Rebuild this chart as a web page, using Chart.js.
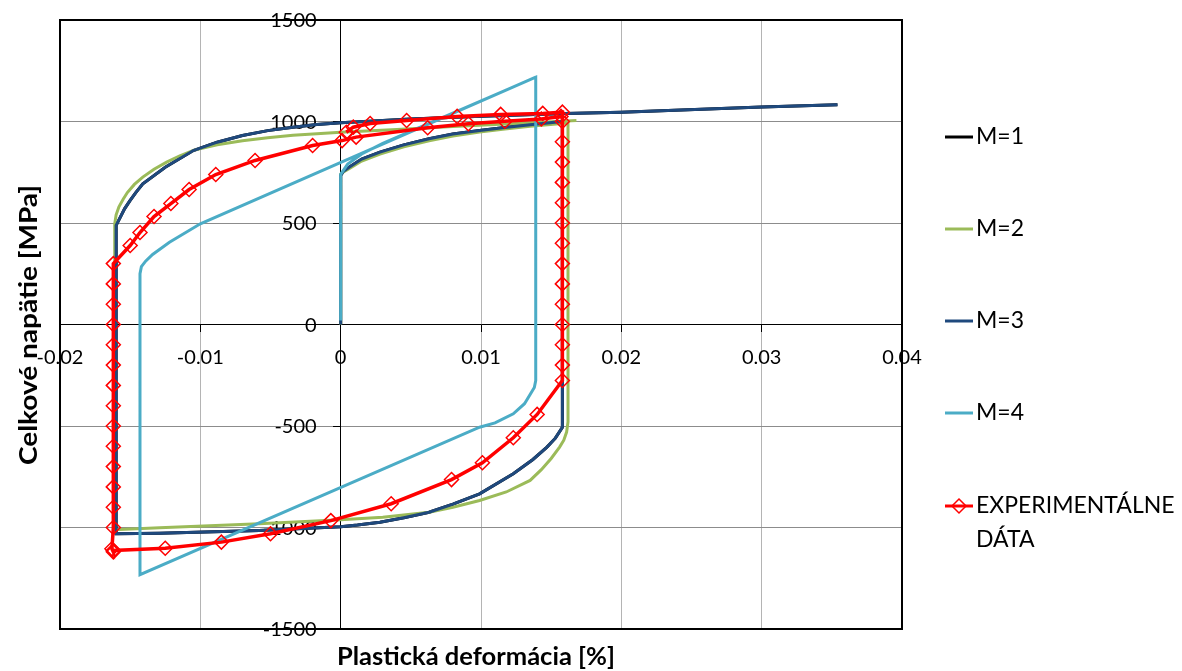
<!DOCTYPE html>
<html>
<head>
<meta charset="utf-8">
<script src="https://cdn.jsdelivr.net/npm/chart.js@4.4.0/dist/chart.umd.min.js"></script>
<style>
html, body { margin: 0; padding: 0; background: #fff; }
canvas { display: block; }
</style>
</head>
<body>
<canvas id="chart" width="1182" height="671"></canvas>
<script>
// axis ranges / ticks
const xTicks = [-0.02, -0.01, 0, 0.01, 0.02, 0.03, 0.04];
const yTicks = [-1500, -1000, -500, 0, 500, 1000, 1500];

const labels = ['M=1', 'M=2', 'M=3', 'M=4', 'EXPERIMENTÁLNE DÁTA'];
const colors = ['#000000', '#9BBB59', '#1F497D', '#4BACC6', '#FF0000'];

// M=3 (M=1 lies exactly under it)
const m3X = [0, 0, 0.0002, 0.0006, 0.0015, 0.0028, 0.0045, 0.0063, 0.008, 0.0099, 0.0117, 0.0135, 0.0158,
  0.0158, 0.0153, 0.0147, 0.0137, 0.0123, 0.0099, 0.008, 0.0063, 0.0045, 0.0028, 0.0012, 0, -0.0058, -0.0129, -0.016,
  -0.016, -0.0157, -0.0154, -0.015, -0.0146, -0.0141, -0.0125, -0.0105, -0.0088, -0.007, -0.0052, -0.0034, -0.0017, 0,
  0.005, 0.01, 0.016, 0.02, 0.03, 0.0354];
const m3Y = [0, 734, 755, 775, 815, 849, 885, 915, 938, 956, 971, 984, 1000,
  -506, -560, -604, -665, -735, -834, -885, -925, -952, -974, -988, -996, -1015, -1028, -1031,
  488, 529, 570, 611, 650, 693, 775, 857, 898, 931, 955, 972, 985, 994,
  1012, 1026, 1040, 1046, 1071, 1082];
const m1X = m3X.slice();
const m1Y = m3Y.slice();

// M=2
const m2X = [0, 0, 0.0002, 0.0006, 0.0015, 0.0028, 0.0045, 0.0063, 0.008, 0.0099, 0.0117, 0.0135, 0.0162,
  0.0162, 0.0161, 0.0159, 0.0156, 0.015, 0.0143, 0.0135, 0.0118, 0.0099, 0.008, 0.0063, 0.003, 0, -0.0058, -0.0129, -0.0161,
  -0.0161, -0.016, -0.0158, -0.0155, -0.0152, -0.0147, -0.0141, -0.0133, -0.0124, -0.0115, -0.0105, -0.0088, -0.007, -0.0052, -0.0034, 0,
  0.004, 0.008, 0.0125, 0.0168];
const m2Y = [0, 740, 752, 768, 805, 840, 875, 905, 928, 948, 963, 976, 992,
  -480, -530, -570, -604, -660, -715, -768, -825, -867, -900, -925, -950, -962, -982, -1001, -1011,
  496, 540, 580, 617, 650, 690, 726, 765, 800, 830, 858, 885, 905, 920, 932, 947,
  960, 975, 990, 1005];

// M=4
const m4X = [0, 0, 0.0005, 0.0015, 0.003, 0.0139, 0.0139, 0.0138, 0.0135, 0.0131, 0.0123, 0.011, 0.0099, -0.0143, -0.0143, -0.0142, -0.0139, -0.0134, -0.0122, -0.01, 0.0139];
const m4Y = [20, 740, 790, 840, 892, 1218, -276, -310, -345, -390, -440, -485, -506, -1232, 250, 285, 312, 345, 405, 496, 1218];

// experimental data
const expX = [0.0004, 0.0009, 0.0021, 0.0047, 0.0083, 0.0114, 0.0144, 0.0158,
  0.0158, 0.0158, 0.0158, 0.0158, 0.0158, 0.0158, 0.0158, 0.0158, 0.0158, 0.0158, 0.0158, 0.0158, 0.0158, 0.0158,
  0.014, 0.0123, 0.0101, 0.0079, 0.0036, -0.0007, -0.005, -0.0085, -0.0125, -0.0162, -0.0162, -0.0163,
  -0.0162, -0.0162, -0.0162, -0.0162, -0.0162, -0.0162, -0.0162, -0.0162, -0.0162, -0.0162, -0.0162, -0.0162, -0.0162, -0.0162,
  -0.015, -0.0143, -0.0133, -0.0121, -0.0108, -0.0089, -0.0061, -0.002, 0.0001,
  0.0011, 0.0062, 0.0091, 0.0117, 0.0143, 0.0157];
const expY = [947, 972, 990, 1005, 1025, 1035, 1040, 1046,
  1000, 900, 800, 700, 600, 500, 400, 300, 200, 100, 0, -100, -200, -276,
  -443, -558, -681, -764, -883, -966, -1031, -1072, -1102, -1113, -1120, -1105,
  -1000, -900, -800, -700, -600, -500, -400, -300, -200, -100, 0, 100, 200, 300,
  389, 453, 532, 596, 665, 739, 808, 882, 906,
  923, 969, 989, 1001, 1012, 1025];

function toPoints(xs, ys) {
  return xs.map((x, i) => ({ x: x, y: ys[i] }));
}

const FONT = 'Lato';

// y tick labels sit left of the y axis (which crosses at x = 0)
const yLabels = {
  id: 'yLabels',
  beforeDatasetsDraw(chart) {
    const ctx = chart.ctx;
    const x0 = chart.scales.x.getPixelForValue(0) - 24;
    ctx.save();
    ctx.fillStyle = '#000';
    ctx.font = '20px ' + FONT;
    ctx.textAlign = 'right';
    ctx.textBaseline = 'middle';
    yTicks.forEach(v => ctx.fillText(String(v), x0, chart.scales.y.getPixelForValue(v) + 1));
    ctx.restore();
  }
};

// draw text squeezed/stretched to a given width
function fitText(ctx, text, x, y, width) {
  const w = ctx.measureText(text).width;
  ctx.save();
  ctx.translate(x, y);
  ctx.scale(width / w, 1);
  ctx.fillText(text, 0, 0);
  ctx.restore();
}

// frame, axis titles and legend like the original
const decor = {
  id: 'decor',
  afterDraw(chart) {
    const ctx = chart.ctx;
    const a = chart.chartArea;
    ctx.save();
    ctx.strokeStyle = '#000';
    ctx.lineWidth = 2;
    ctx.strokeRect(a.left, a.top, a.right - a.left, a.bottom - a.top);

    ctx.fillStyle = '#000';
    ctx.font = 'bold 25px ' + FONT;
    ctx.textAlign = 'center';
    ctx.textBaseline = 'middle';
    fitText(ctx, 'Plastická deformácia [%]', 476, 657, 278);
    ctx.save();
    ctx.translate(29, 325);
    ctx.rotate(-Math.PI / 2);
    fitText(ctx, 'Celkové napätie [MPa]', 0, 0, 280);
    ctx.restore();

    // legend
    const rows = [137, 229, 321, 413, 506];
    ctx.font = '23px ' + FONT;
    ctx.textAlign = 'left';
    chart.data.datasets.forEach((ds, i) => {
      const y = rows[i];
      ctx.strokeStyle = ds.borderColor;
      ctx.lineWidth = 3;
      ctx.beginPath();
      ctx.moveTo(945, y);
      ctx.lineTo(973, y);
      ctx.stroke();
      if (ds.pointRadius > 0) {
        ctx.lineWidth = 1.5;
        ctx.beginPath();
        ctx.moveTo(959, y - 7); ctx.lineTo(966, y); ctx.lineTo(959, y + 7); ctx.lineTo(952, y);
        ctx.closePath();
        ctx.stroke();
      }
      ctx.fillStyle = '#000';
      const words = ds.label.split(' ');
      words.forEach((w, k) => ctx.fillText(w, 976, y + k * 34));
    });
    ctx.restore();
  }
};

const lineSet = (label, color, xs, ys, order, width) => ({
  label: label,
  data: toPoints(xs, ys),
  showLine: true,
  borderColor: color,
  backgroundColor: color,
  borderWidth: width,
  pointRadius: 0,
  order: order
});

const expSet = {
  label: labels[4],
  data: toPoints(expX, expY),
  showLine: true,
  borderColor: colors[4],
  backgroundColor: colors[4],
  borderWidth: 3.5,
  pointRadius: 7,
  pointStyle: 'rectRot',
  pointBorderColor: colors[4],
  pointBackgroundColor: 'rgba(0,0,0,0)',
  pointBorderWidth: 1.5,
  order: 0
};

const noPad = (s) => { s.paddingTop = 0; s.paddingBottom = 0; s.paddingLeft = 0; s.paddingRight = 0; };

new Chart(document.getElementById('chart').getContext('2d'), {
  type: 'scatter',
  data: {
    datasets: [
      lineSet(labels[0], colors[0], m1X, m1Y, 4, 3),
      lineSet(labels[1], colors[1], m2X, m2Y, 3, 3),
      lineSet(labels[2], colors[2], m3X, m3Y, 2, 3),
      lineSet(labels[3], colors[3], m4X, m4Y, 1, 3),
      expSet
    ]
  },
  options: {
    responsive: false,
    animation: false,
    events: [],
    layout: { padding: { left: 60, right: 280, top: 20, bottom: 42 } },
    plugins: { legend: { display: false }, tooltip: { enabled: false } },
    scales: {
      x: {
        type: 'linear',
        position: { y: 0 },
        min: xTicks[0],
        max: xTicks[xTicks.length - 1],
        afterBuildTicks: (s) => { s.ticks = xTicks.map(v => ({ value: v })); },
        afterFit: noPad,
        ticks: {
          color: '#000',
          font: { family: FONT, size: 20 },
          padding: 14,
          maxRotation: 0,
          autoSkip: false,
          callback: (v) => String(Math.round(v * 100) / 100)
        },
        grid: { color: '#b4b4b4', lineWidth: 1, tickLength: 7, tickColor: '#000' },
        border: { color: '#000', width: 1 }
      },
      y: {
        type: 'linear',
        position: { x: 0 },
        min: yTicks[0],
        max: yTicks[yTicks.length - 1],
        afterBuildTicks: (s) => { s.ticks = yTicks.map(v => ({ value: v })); },
        afterFit: noPad,
        ticks: { display: false },
        grid: { color: '#8c8c8c', lineWidth: 1, tickLength: 7, tickColor: '#000' },
        border: { color: '#000', width: 1 }
      }
    }
  },
  plugins: [yLabels, decor]
});
</script>
</body>
</html>
